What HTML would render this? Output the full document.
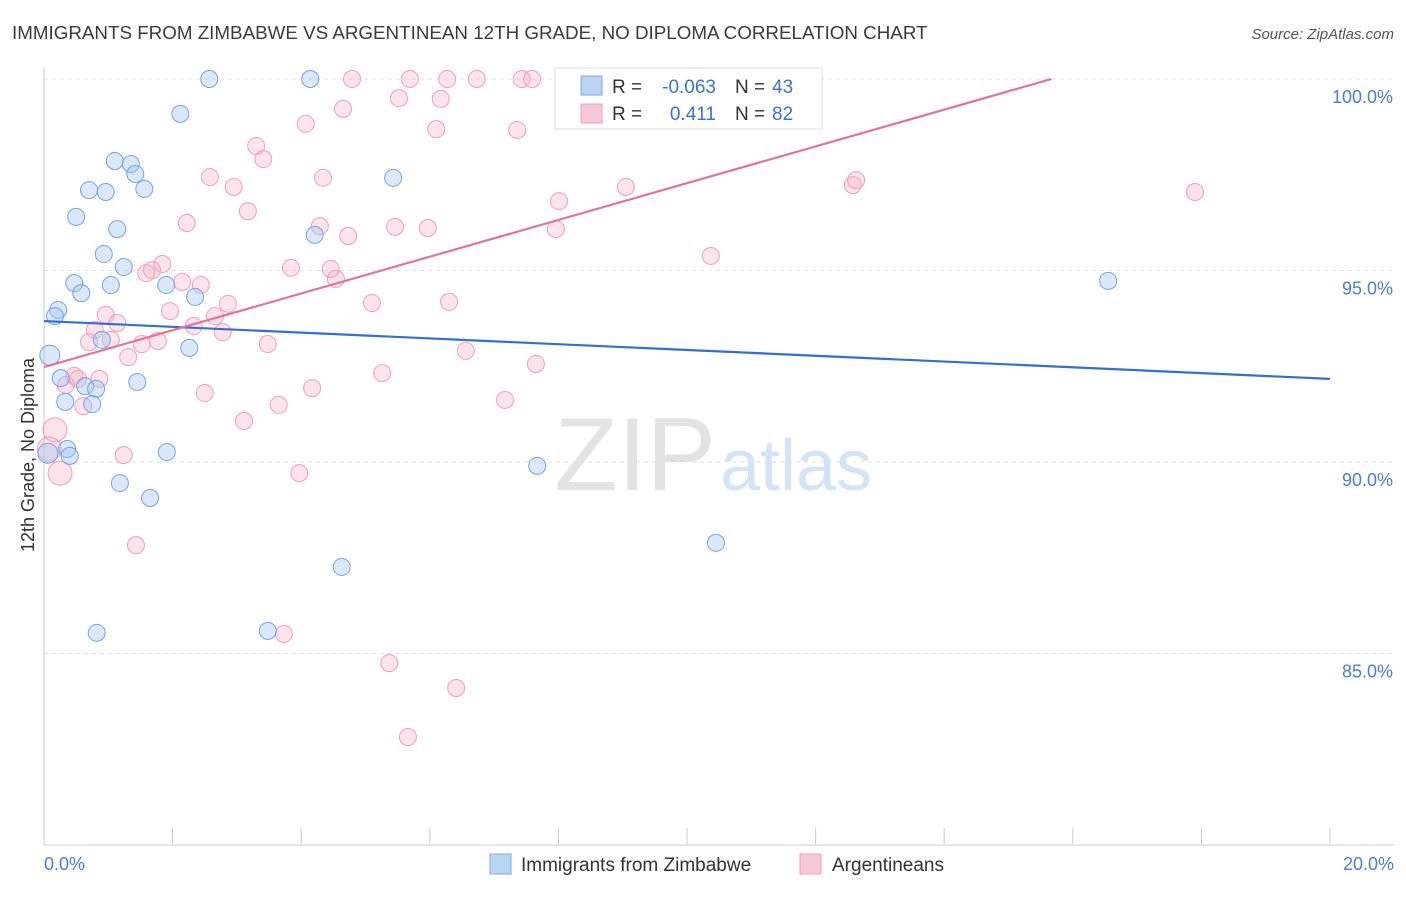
<!DOCTYPE html>
<html><head><meta charset="utf-8"><style>
body{margin:0;background:#fff;font-family:"Liberation Sans",sans-serif;}
svg text{font-family:"Liberation Sans",sans-serif;}
</style></head><body>
<svg width="1406" height="892" xmlns="http://www.w3.org/2000/svg">
<text x="12" y="39" font-size="18.8" fill="#3b3b3b">IMMIGRANTS FROM ZIMBABWE VS ARGENTINEAN 12TH GRADE, NO DIPLOMA CORRELATION CHART</text>
<text x="1394" y="39" font-size="15" fill="#555" text-anchor="end" font-style="italic">Source: ZipAtlas.com</text>
<g id="grid"></g>
<text x="716" y="490" font-size="104" fill="#e3e3e3" text-anchor="end" font-family="Liberation Serif">ZIP</text>
<text x="720" y="490" font-size="72" fill="#d4e3f5">atlas</text>
<g id="pts"></g>
<g id="lines"></g>
<text transform="translate(34,455) rotate(-90)" font-size="18" fill="#333" text-anchor="middle">12th Grade, No Diploma</text>
<text x="44" y="870" font-size="18" fill="#4a7fd4">0.0%</text>
<text x="1394" y="870" font-size="18" fill="#4a7fd4" text-anchor="end">20.0%</text>
<g>
<rect x="555" y="68" width="267" height="61" fill="#fff" stroke="#ddd"/>
<rect x="581" y="76" width="21" height="19" fill="#bcd4f4" stroke="#7ea9e6"/>
<rect x="581" y="104" width="21" height="19" fill="#f9c6d6" stroke="#eea2bb"/>
<text x="612" y="93" font-size="19" fill="#333">R =</text>
<text x="716" y="93" font-size="19" fill="#3b73d0" text-anchor="end">-0.063</text>
<text x="735" y="93" font-size="19" fill="#333">N =</text>
<text x="772" y="93" font-size="19" fill="#3b73d0">43</text>
<text x="612" y="120" font-size="19" fill="#333">R =</text>
<text x="716" y="120" font-size="19" fill="#3b73d0" text-anchor="end">0.411</text>
<text x="735" y="120" font-size="19" fill="#333">N =</text>
<text x="772" y="120" font-size="19" fill="#3b73d0">82</text>
</g>
<g>
<rect x="490" y="854" width="21" height="20" fill="#bcd4f4" stroke="#7ea9e6"/>
<text x="521" y="871" font-size="19" fill="#333">Immigrants from Zimbabwe</text>
<rect x="800" y="854" width="21" height="20" fill="#f9c6d6" stroke="#eea2bb"/>
<text x="832" y="871" font-size="19" fill="#333">Argentineans</text>
</g>
</svg>
<script>
const yTicks=[100,95,90,85];
const xTicks=[0,2,4,6,8,10,12,14,16,18,20];
const bluePx=[[209,79],[310,79],[180,114],[115,161],[131,164],[135,174],[89,190],[106,192],[144,189],[393,178],[76,217],[117,229],[315,235],[104,254],[124,267],[74,283],[111,285],[166,285],[81,293],[195,297],[58,310],[55,316],[102,340],[189,348],[50,355],[61,378],[137,382],[85,386],[96,389],[65,402],[92,404],[67,449],[70,456],[167,452],[48,453],[537,466],[120,483],[150,498],[716,543],[342,567],[97,633],[268,631],[1108,281]];
const pinkPx=[[352,79],[410,79],[447,79],[477,79],[522,79],[532,79],[570,79],[610,79],[638,79],[655,79],[343,109],[399,98],[441,99],[306,124],[436,129],[517,130],[256,146],[263,159],[210,177],[323,178],[234,187],[559,201],[626,187],[853,185],[856,180],[1195,192],[248,211],[187,223],[320,226],[395,227],[428,228],[348,236],[556,229],[711,256],[152,270],[162,264],[291,268],[331,269],[336,279],[146,273],[182,282],[201,285],[228,304],[372,303],[449,302],[106,315],[170,311],[215,316],[117,323],[194,326],[95,330],[223,332],[111,340],[89,342],[158,341],[142,344],[268,344],[466,351],[128,357],[536,364],[382,373],[74,376],[99,379],[66,385],[312,388],[205,393],[505,400],[83,406],[279,405],[244,421],[55,430],[49,449],[124,455],[60,473],[299,473],[136,545],[284,634],[389,663],[456,688],[408,737],[78,379]];
const blueX=bluePx.map(p=>+((p[0]-44)/64.3).toFixed(2));
const blueY=bluePx.map(p=>+(100-(p[1]-79)/38.3).toFixed(2));
const pinkX=pinkPx.map(p=>+((p[0]-44)/64.3).toFixed(2));
const pinkY=pinkPx.map(p=>+(100-(p[1]-79)/38.3).toFixed(2));
const blueTrend=[93.68,-0.0755];
const pinkTrend=[92.48,0.48];
const X=v=>44+v*64.3, Y=v=>79+(100-v)*38.3;
const NS="http://www.w3.org/2000/svg";
function mk(t,a,p){const e=document.createElementNS(NS,t);for(const k in a)e.setAttribute(k,a[k]);p.appendChild(e);return e;}
const g=document.getElementById('grid');
yTicks.forEach(t=>{
 const l=mk('line',{x1:44,x2:1394,y1:Y(t),y2:Y(t),stroke:'#e2e2e2','stroke-dasharray':'4,4'},g);
 
 
 const tx=mk('text',{x:1393,y:Y(t)+24,'font-size':18,fill:'#4a7fd4','text-anchor':'end'},g);
 tx.textContent=t.toFixed(1)+'%';
 
 
});
const ax=mk('line',{x1:44,x2:44,y1:68,y2:845,stroke:'#ccc'},g);


const bx=mk('line',{x1:44,x2:1394,y1:845,y2:845,stroke:'#ccc'},g);


xTicks.forEach(t=>{
 const l=mk('line',{x1:X(t),x2:X(t),y1:828,y2:845,stroke:'#ccc'},g);
 
 
});
const pg=document.getElementById('pts');
pinkX.forEach((x,i)=>{
 const r=(x<0.3)?12:8.5;
 const c=mk('circle',{cx:X(x),cy:Y(pinkY[i]),r:r,fill:'rgba(245,175,200,0.35)',stroke:'#ee9fba','stroke-width':1},pg);
 
 
});
blueX.forEach((x,i)=>{
 const r=(x<0.15)?10:8.5;
 const c=mk('circle',{cx:X(x),cy:Y(blueY[i]),r:r,fill:'rgba(165,198,240,0.4)',stroke:'#74a3e2','stroke-width':1},pg);
 
 
});
const lg=document.getElementById('lines');
const bl=mk('line',{x1:X(0),y1:Y(blueTrend[0]),x2:X(20),y2:Y(blueTrend[0]+20*blueTrend[1]),stroke:'#2f6fd6','stroke-width':2.2},lg);


const xEnd=Math.min(20,(100-pinkTrend[0])/pinkTrend[1]);
const pl=mk('line',{x1:X(0),y1:Y(pinkTrend[0]),x2:X(xEnd),y2:Y(pinkTrend[0]+xEnd*pinkTrend[1]),stroke:'#e5729a','stroke-width':2.2},lg);


</script>
</body></html>
